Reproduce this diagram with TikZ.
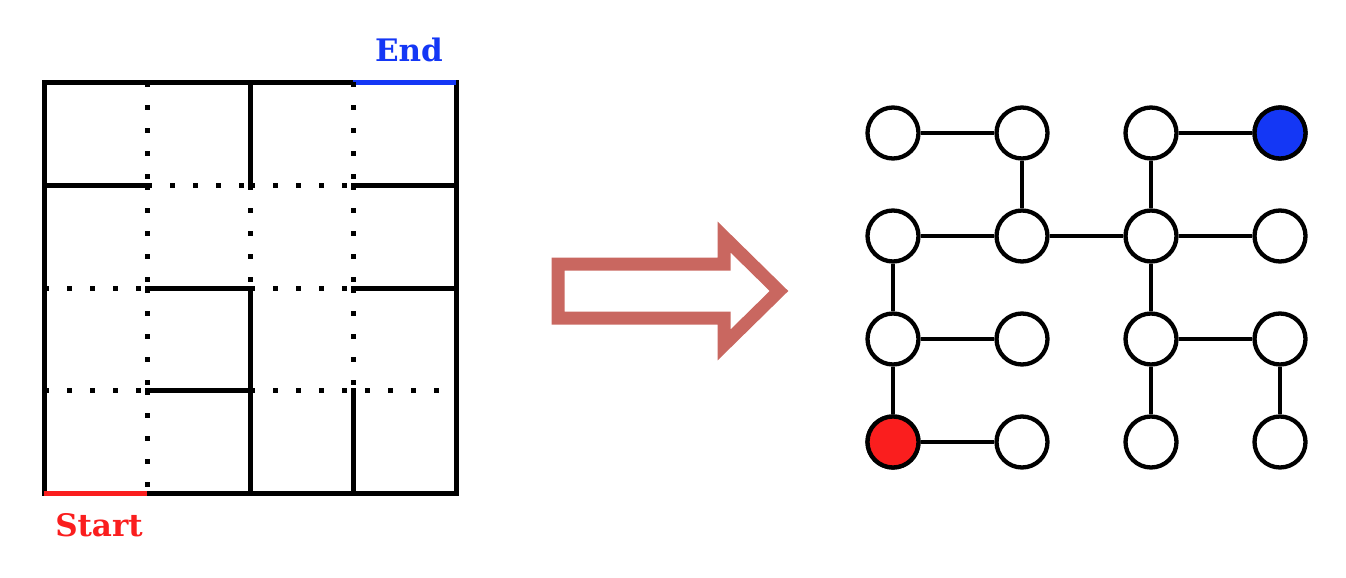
\documentclass[tikz,border=0pt]{standalone}
\usepackage{fontspec}
\newfontfamily\lblfont{DejaVu Serif}
\definecolor{arrowred}{RGB}{201,103,96}
\definecolor{startred}{RGB}{250,30,30}
\definecolor{endblue}{RGB}{20,55,245}
\begin{document}
\begin{tikzpicture}[x=1pt,y=-1pt,
  wall/.style={line width=5pt,line cap=rect},
  dotwall/.style={line width=5pt,dash pattern=on 5pt off 18pt},
  vert/.style={circle,draw,line width=4.3pt,minimum size=51pt,inner sep=0pt,fill=white},
  edge/.style={line width=4.3pt},
  lbl/.style={font=\lblfont\fontsize{31}{38}\selectfont\bfseries,inner sep=0pt,anchor=base}]
\useasboundingbox (0,0) rectangle (1346,578);
% ---- maze outer border ----
\draw[wall] (353,82) -- (44,82) -- (44,493);
\draw[wall] (147,493) -- (456,493) -- (456,82);
\draw[line width=5pt,endblue] (353,82) -- (456,82);
\draw[line width=5pt,startred] (44,493) -- (147,493);
% ---- solid interior walls ----
\draw[wall] (250,82) -- (250,185);
\draw[wall] (250,288) -- (250,493);
\draw[wall] (353,390) -- (353,493);
\draw[wall] (44,185) -- (147,185);
\draw[wall] (353,185) -- (456,185);
\draw[wall] (147,288) -- (250,288);
\draw[wall] (353,288) -- (456,288);
\draw[wall] (147,390) -- (250,390);
% ---- dotted passages ----
\draw[dotwall] (147,82) -- (147,185);
\draw[dotwall] (147,185) -- (147,288);
\draw[dotwall] (147,288) -- (147,390);
\draw[dotwall] (147,390) -- (147,493);
\draw[dotwall] (250,185) -- (250,288);
\draw[dotwall] (353,82) -- (353,185);
\draw[dotwall] (353,185) -- (353,288);
\draw[dotwall] (353,288) -- (353,390);
\draw[dotwall] (147,185) -- (250,185);
\draw[dotwall] (250,185) -- (353,185);
\draw[dotwall] (44,288) -- (147,288);
\draw[dotwall] (250,288) -- (353,288);
\draw[dotwall] (44,390) -- (147,390);
\draw[dotwall] (250,390) -- (456,390);
% ---- labels ----
\node[lbl,text=endblue] (endl) at (409,62) {End};
\node[lbl,text=startred] (startl) at (99,536) {Start};
% ---- arrow ----
\draw[line width=13pt,arrowred,line join=miter]
  (558,264) -- (724,264) -- (724,237) -- (779,291) -- (724,345) -- (724,318) -- (558,318) -- cycle;
% ---- graph ----
\foreach \c/\x in {0/893,1/1022,2/1151,3/1280}{
  \foreach \r/\y in {0/133,1/236,2/339,3/442}{
    \node[vert] (n\c\r) at (\x,\y) {};
  }
}
\node[vert,fill=endblue] at (n30) {};
\node[vert,fill=startred] at (n03) {};
\draw[edge] (n00) -- (n10);
\draw[edge] (n20) -- (n30);
\draw[edge] (n10) -- (n11);
\draw[edge] (n20) -- (n21);
\draw[edge] (n01) -- (n11);
\draw[edge] (n11) -- (n21);
\draw[edge] (n21) -- (n31);
\draw[edge] (n01) -- (n02);
\draw[edge] (n21) -- (n22);
\draw[edge] (n02) -- (n12);
\draw[edge] (n22) -- (n32);
\draw[edge] (n02) -- (n03);
\draw[edge] (n22) -- (n23);
\draw[edge] (n32) -- (n33);
\draw[edge] (n03) -- (n13);
\end{tikzpicture}
\end{document}
